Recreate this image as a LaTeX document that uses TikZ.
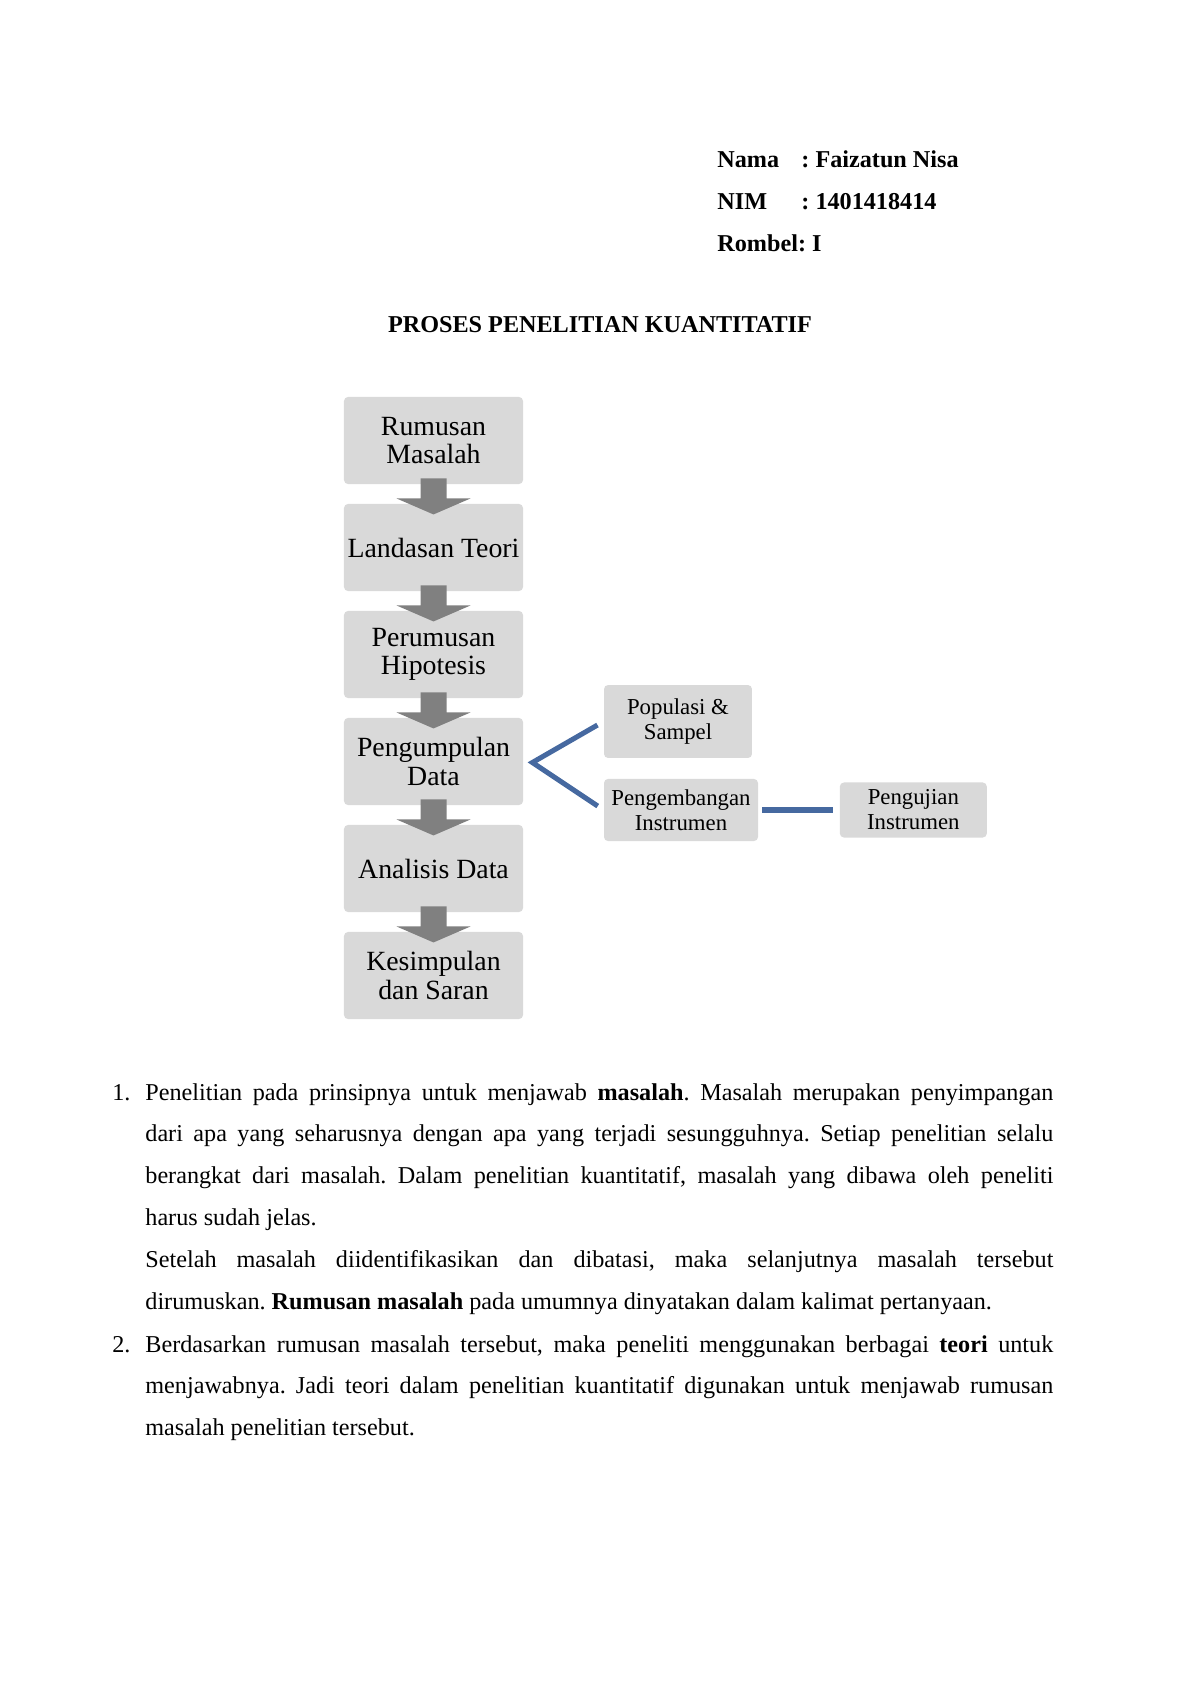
\documentclass[tikz,border=0pt,12pt]{standalone}
\usepackage{fontspec}
\setmainfont{Liberation Serif}
\usetikzlibrary{positioning,calc}

\definecolor{boxgray}{RGB}{217,217,217}
\definecolor{arrowgray}{RGB}{128,128,128}
\definecolor{linkblue}{RGB}{70,105,160}

\frenchspacing

\begin{document}
\begin{tikzpicture}[x=0.49607pt, y=-0.49607pt,
    every node/.style={inner sep=0pt, font=\fontsize{12}{14}\selectfont},
    head/.style={anchor=base west, font=\fontsize{12}{14}\selectfont\bfseries},
    stage/.style={fill=boxgray, rounded corners=2pt, minimum width=88.8pt,
        minimum height=43.2pt, align=center, font=\fontsize{13.8}{14}\selectfont},
    side/.style={fill=boxgray, rounded corners=2pt, align=center,
        font=\fontsize{11.3}{12.4}\selectfont},
    branch/.style={draw=linkblue, line width=2.5pt},
    blockarrow/.style={fill=arrowgray},
    para/.style={anchor=base west, text width=450.4pt, align=justify,
        font={\fontsize{12}{20.8}\selectfont\tolerance=10000 \hyphenpenalty=10000\relax}}]
    \useasboundingbox (0,0) rectangle (1200,1696);

    % header
    \node[head] (nama_key) at (717,167) {Nama};
    \node[head] (nama_val) at (801,167) {: Faizatun Nisa};
    \node[head] (nim_key) at (717,209) {NIM};
    \node[head] (nim_val) at (801,209) {: 1401418414};
    \node[head] (rombel) at (717,251) {Rombel: I};
    \node[head, anchor=base] (title) at (600,332) {PROSES PENELITIAN KUANTITATIF};

    % main stages
    \foreach \i/\txt in {1/{Rumusan\\Masalah}, 2/{Landasan Teori}, 3/{Perumusan\\Hipotesis},
        4/{Pengumpulan\\Data}, 5/{Analisis Data}, 6/{Kesimpulan\\dan Saran}} {
        \node[stage] (S\i) at (433.5, {440.5+(\i-1)*107}) {\txt};
    }
    \foreach \i in {1,...,5} {
        \fill[blockarrow] ($(S\i.south)+(-13,-6)$) -- ++(26,0) -- ++(0,20) -- ++(24,0)
            -- ++(-37,16) -- ++(-37,-16) -- ++(24,0) -- cycle;
    }

    % data collection branch
    \node[side, minimum width=73.4pt, minimum height=36.2pt] (populasi) at (678,721.5) {Populasi \&\\Sampel};
    \node[side, minimum width=76.4pt, minimum height=30.8pt] (pengembangan) at (681,810) {Pengembangan\\Instrumen};
    \node[side, minimum width=72.9pt, minimum height=27.3pt, right=40.2pt of pengembangan] (pengujian) {Pengujian\\Instrumen};
    \coordinate (fork) at ($(S4.east)+(9,1)$);
    \draw[branch, shorten <=3.5pt, shorten >=3.5pt] (populasi.west) -- (fork) -- (pengembangan.west);
    \draw[branch, shorten <=2pt, shorten >=3pt] (pengembangan) -- (pengujian);

    % explanation
    \node[anchor=base west] (num1) at (112,1100) {1.};
    \node[para] (item1) at (145,1100) {Penelitian pada prinsipnya untuk menjawab \textbf{masalah}. Masalah merupakan penyimpangan\linebreak
        dari apa yang seharusnya dengan apa yang terjadi sesungguhnya. Setiap penelitian selalu\linebreak
        berangkat dari masalah. Dalam penelitian kuantitatif, masalah yang dibawa oleh peneliti\linebreak
        harus sudah jelas.\par
        Setelah masalah diidentifikasikan dan dibatasi, maka selanjutnya masalah tersebut\linebreak
        dirumuskan. \textbf{Rumusan masalah} pada umumnya dinyatakan dalam kalimat pertanyaan.};
    \node[anchor=base west] (num2) at (112,1352) {2.};
    \node[para] (item2) at (145,1352) {Berdasarkan rumusan masalah tersebut, maka peneliti menggunakan berbagai \textbf{teori} untuk\linebreak
        menjawabnya. Jadi teori dalam penelitian kuantitatif digunakan untuk menjawab rumusan\linebreak
        masalah penelitian tersebut.};
\end{tikzpicture}
\end{document}
